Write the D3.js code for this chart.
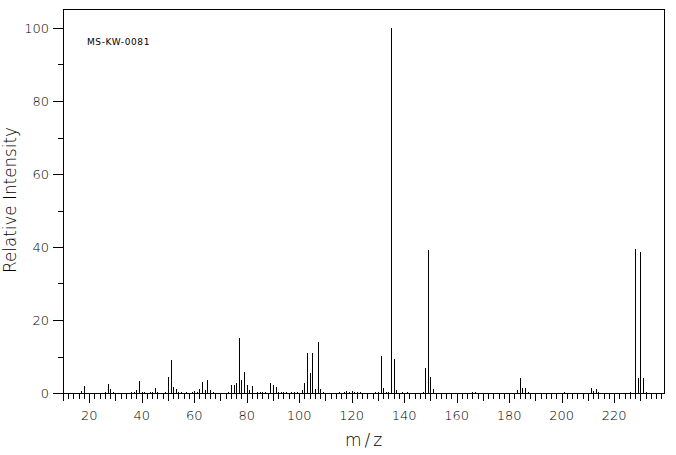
<!DOCTYPE html>
<html><head><meta charset="utf-8">
<script src="https://cdn.jsdelivr.net/npm/d3@7"></script>
<style>
html,body{margin:0;padding:0;background:#fff;}
svg{display:block;}
text{font-family:"DejaVu Sans",sans-serif;fill:#000;}
</style></head>
<body>
<svg id="chart" width="676" height="455"></svg>
<script>
const mz = [17,18,26,27,28,29,36,37,38,39,40,41,43,44,45,46,49,50,51,52,53,54,55,57,59,60,61,62,63,64,65,66,67,73,74,75,76,77,78,79,80,81,82,84,85,86,87,89,90,91,92,93,94,95,97,98,99,101,102,103,104,105,106,107,108,109,115,117,118,119,120,121,122,123,129,130,131,132,133,134,135,136,137,139,141,147,148,149,150,151,166,167,183,184,185,186,187,201,211,212,213,214,226,228,229,230,231,232];
const intensity = [0.5,1.9,0.3,2.5,1.1,0.3,0.3,0.3,0.8,3.3,0.3,0.3,0.3,0.3,1.4,0.3,0.3,4.4,9.0,1.6,1.1,0.3,0.3,0.3,0.3,0.6,0.3,1.1,3.0,0.8,3.6,0.8,0.3,0.3,2.2,2.2,2.7,15.1,3.6,5.8,2.2,0.8,1.9,0.3,0.3,0.3,0.3,2.7,2.2,1.6,0.3,0.3,0.3,0.3,0.3,0.3,0.3,0.8,2.7,11.0,5.5,11.0,1.1,14.0,1.1,0.3,0.3,0.3,0.55,0.3,0.55,0.3,0.3,0.3,0.3,0.3,10.1,1.4,0.3,0.3,100,9.3,0.8,0.3,0.3,0.3,6.8,39.2,4.4,1.1,0.3,0.3,0.7,4.1,1.4,1.4,0.3,0.3,1.4,0.5,1.1,0.3,0.3,39.5,4.1,38.6,4.1,0.3];
const xTickLabels = [20,40,60,80,100,120,140,160,180,200,220];
const yTickLabels = [0,20,40,60,80,100];
const sampleId = "MS-KW-0081";
const xTitle = "m/z";
const yTitle = "Relative Intensity";

const svg = d3.select("#chart");
const L = 63, R = 664, T = 9, B = 393;
const x = d3.scaleLinear().domain([10, 239]).range([L, R]);
const y = d3.scaleLinear().domain([0, 100]).range([B, 28]);
const px = v => Math.round(v) + 0.5;

// frame
svg.append("rect").attr("x", L + 0.5).attr("y", T + 0.5)
  .attr("width", R - L).attr("height", B - T)
  .attr("fill", "none").attr("stroke", "#000").attr("stroke-width", 1)
  .attr("shape-rendering", "crispEdges");

// peaks
svg.append("g").selectAll("line").data(mz.map((m, i) => [m, intensity[i]])).join("line")
  .attr("x1", d => px(x(d[0]))).attr("x2", d => px(x(d[0])))
  .attr("y1", B).attr("y2", d => Math.round(y(d[1])))
  .attr("stroke", "#000").attr("stroke-width", 1)
  .attr("shape-rendering", "crispEdges");

// x axis ticks
const xTicks = d3.range(10, 239, 2);
const xg = svg.append("g").attr("shape-rendering", "crispEdges");
xg.selectAll("line").data(xTicks).join("line")
  .attr("x1", d => px(x(d))).attr("x2", d => px(x(d)))
  .attr("y1", B).attr("y2", d => B + (d % 20 === 0 ? 10 : d % 10 === 0 ? 8 : 6))
  .attr("stroke", "#000");
svg.append("g").selectAll("text").data(xTickLabels).join("text")
  .attr("x", d => x(d)).attr("y", 420)
  .attr("text-anchor", "middle").attr("font-size", 13).attr("font-weight", 200)
  .text(d => d);

// y axis ticks
const yTicks = d3.range(0, 101, 10);
svg.append("g").attr("shape-rendering", "crispEdges").selectAll("line").data(yTicks).join("line")
  .attr("x1", d => L - (d % 20 === 0 ? 10 : 5)).attr("x2", L)
  .attr("y1", d => px(y(d))).attr("y2", d => px(y(d)))
  .attr("stroke", "#000");
svg.append("g").selectAll("text").data(yTickLabels).join("text")
  .attr("x", 49).attr("y", d => y(d) + 4.5)
  .attr("text-anchor", "end").attr("font-size", 13).attr("font-weight", 200)
  .text(d => d);

// titles
svg.append("text").attr("x", 365).attr("y", 446).attr("text-anchor", "middle")
  .attr("font-size", 17).attr("font-weight", 200).attr("letter-spacing", 3).text(xTitle);
svg.append("text").attr("transform", "translate(16,200) rotate(-90)")
  .attr("text-anchor", "middle").attr("font-size", 17).attr("font-weight", 200)
  .attr("textLength", 146).attr("lengthAdjust", "spacingAndGlyphs").text(yTitle);

svg.append("text").attr("x", 87).attr("y", 44.5)
  .attr("font-family", "DejaVu Sans Mono, monospace").attr("font-size", 9)
  .attr("letter-spacing", 0.6).text(sampleId);
</script>
</body></html>
